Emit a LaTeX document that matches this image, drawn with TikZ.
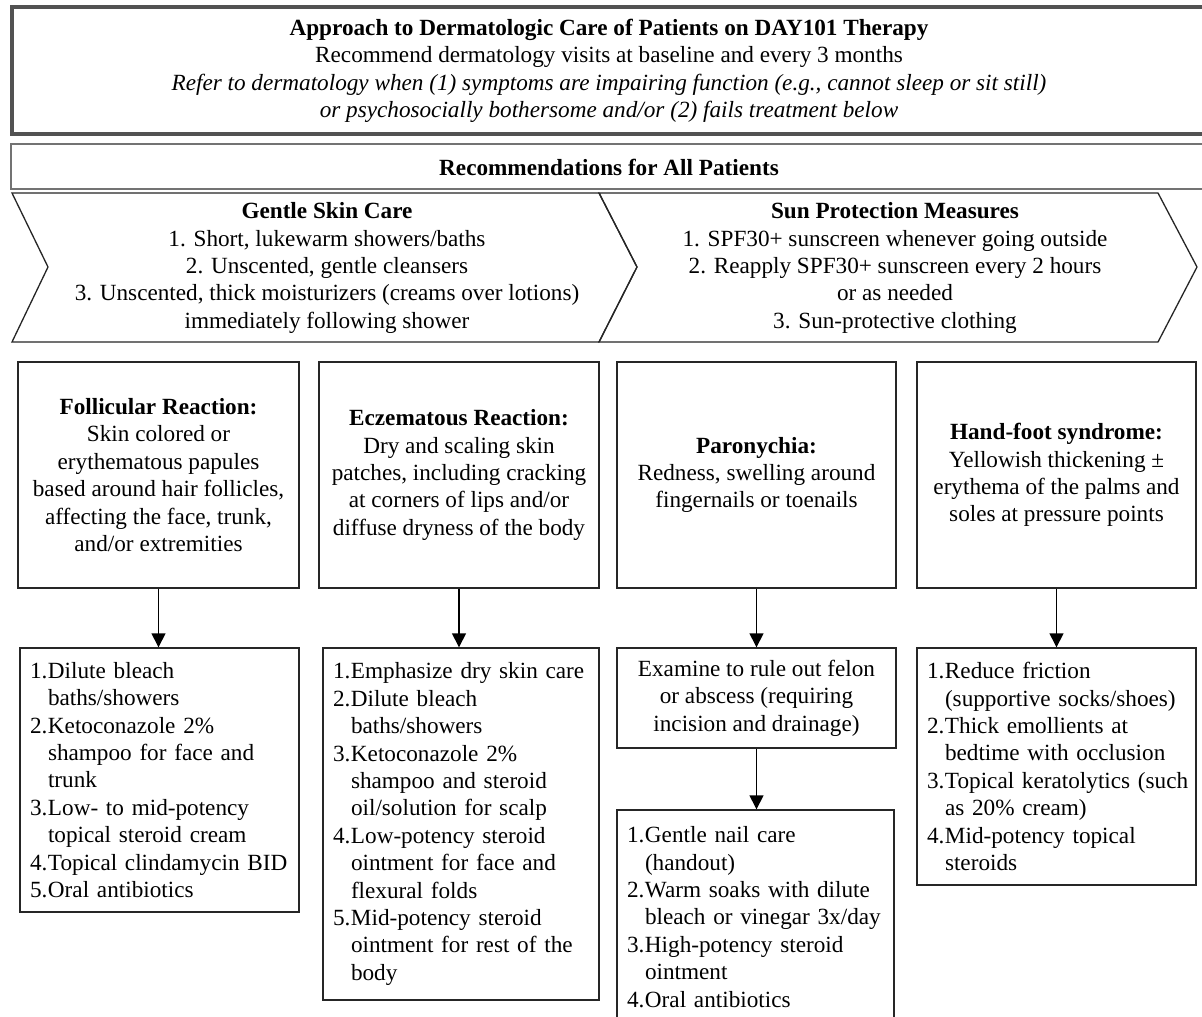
\documentclass[tikz,border=0pt]{standalone}
\usepackage{fontspec}
\setmainfont{Liberation Serif}
\usetikzlibrary{arrows.meta}
\newcommand\myfs{\fontsize{23.2}{27.4}\selectfont}
\newcommand\numit[2]{\makebox[18pt][l]{#1}\mbox{#2}}
\newcommand\contit[1]{\hspace*{18pt}\mbox{#1}}
\begin{document}
\begin{tikzpicture}[x=1pt,y=-1pt,
  every node/.style={font=\myfs, inner sep=0pt},
  box/.style={draw=black!85, line width=1.4pt, align=center},
  listbox/.style={draw=black!85, line width=1.4pt, align=left, inner xsep=10pt, text width=#1},
  chev/.style={draw=black!85, line width=1.3pt, line join=miter},
  arr/.style={line width=1.4pt, -{Triangle[length=14pt,width=14pt]}},
]
\useasboundingbox (0,0) rectangle (1202,1017);
\clip (0,0) rectangle (1202,1017);
\fill[white] (0,0) rectangle (1202,1017);

% header
\draw[draw=black!68, line width=4.5pt] (12,7) rectangle (1215,134);
\node[align=center] (title) at (609,71) {\textbf{Approach to Dermatologic Care of Patients on DAY101 Therapy}\\ Recommend dermatology visits at baseline and every 3 months\\ \textit{Refer to dermatology when (1) symptoms are impairing function (e.g., cannot sleep or sit still)}\\ \textit{or psychosocially bothersome and/or (2) fails treatment below}};

% recommendations bar
\draw[draw=black!55, line width=1.5pt] (11,144) rectangle (1215,189);
\node (rec) at (609,167) {\textbf{Recommendations for All Patients}};

% chevrons
\draw[chev] (12,193) -- (599,193) -- (637,267) -- (599,342) -- (12,342) -- (48,267) -- cycle;
\draw[chev] (599,193) -- (1158,193) -- (1197,267) -- (1158,342) -- (599,342) -- (637,267) -- cycle;
\node[align=center] (gsc) at (327,268) {\textbf{Gentle Skin Care}\\ 1. Short, lukewarm showers/baths\\ 2. Unscented, gentle cleansers\\ 3. Unscented, thick moisturizers (creams over lotions)\\ immediately following shower};
\node[align=center] (spm) at (895,268) {\textbf{Sun Protection Measures}\\ 1. SPF30+ sunscreen whenever going outside\\ 2. Reapply SPF30+ sunscreen every 2 hours\\ or as needed\\ 3. Sun-protective clothing};

% first row
\node[box, minimum width=281pt, minimum height=226pt] (b1) at (158.5,475) {\textbf{Follicular Reaction:}\\ Skin colored or\\ erythematous papules\\ based around hair follicles,\\ affecting the face, trunk,\\ and/or extremities};
\node[box, minimum width=280pt, minimum height=226pt] (b2) at (459,475) {\textbf{Eczematous Reaction:}\\ Dry and scaling skin\\ patches, including cracking\\ at corners of lips and/or\\ diffuse dryness of the body};
\node[box, minimum width=279pt, minimum height=226pt] (b3) at (756.5,475) {\textbf{Paronychia:}\\ Redness, swelling around\\ fingernails or toenails};
\node[box, minimum width=279pt, minimum height=226pt] (b4) at (1056.5,475) {\textbf{Hand-foot syndrome:}\\ Yellowish thickening ±\\ erythema of the palms and\\ soles at pressure points};

% second row
\node[listbox=259pt, minimum height=264pt] (c1) at (159.5,780) {\numit{1.}{Dilute bleach}\\ \contit{baths/showers}\\ \numit{2.}{Ketoconazole 2\%}\\ \contit{shampoo for face and}\\ \contit{trunk}\\ \numit{3.}{Low- to mid-potency}\\ \contit{topical steroid cream}\\ \numit{4.}{Topical clindamycin BID}\\ \numit{5.}{Oral antibiotics}};
\node[listbox=256pt, minimum height=352pt] (c2) at (461,824) {\numit{1.}{Emphasize dry skin care}\\ \numit{2.}{Dilute bleach}\\ \contit{baths/showers}\\ \numit{3.}{Ketoconazole 2\%}\\ \contit{shampoo and steroid}\\ \contit{oil/solution for scalp}\\ \numit{4.}{Low-potency steroid}\\ \contit{ointment for face and}\\ \contit{flexural folds}\\ \numit{5.}{Mid-potency steroid}\\ \contit{ointment for rest of the}\\ \contit{body}};
\node[box, minimum width=279pt, minimum height=100pt] (c3) at (756.5,698) {Examine to rule out felon\\ or abscess (requiring\\ incision and drainage)};
\node[listbox=257pt, minimum height=214pt] (d3) at (755.5,917) {\numit{1.}{Gentle nail care}\\ \contit{(handout)}\\ \numit{2.}{Warm soaks with dilute}\\ \contit{bleach or vinegar 3x/day}\\ \numit{3.}{High-potency steroid}\\ \contit{ointment}\\ \numit{4.}{Oral antibiotics}};
\node[listbox=259pt, minimum height=237pt] (c4) at (1056.5,766.5) {\numit{1.}{Reduce friction}\\ \contit{(supportive socks/shoes)}\\ \numit{2.}{Thick emollients at}\\ \contit{bedtime with occlusion}\\ \numit{3.}{Topical keratolytics (such}\\ \contit{as 20\% cream)}\\ \numit{4.}{Mid-potency topical}\\ \contit{steroids}};

% arrows
\draw[arr] (b1.south) -- (b1.south |- c1.north);
\draw[arr] (b2.south) -- (b2.south |- c2.north);
\draw[arr] (b3.south) -- (b3.south |- c3.north);
\draw[arr] (c3.south) -- (c3.south |- d3.north);
\draw[arr] (b4.south) -- (b4.south |- c4.north);
\end{tikzpicture}
\end{document}
